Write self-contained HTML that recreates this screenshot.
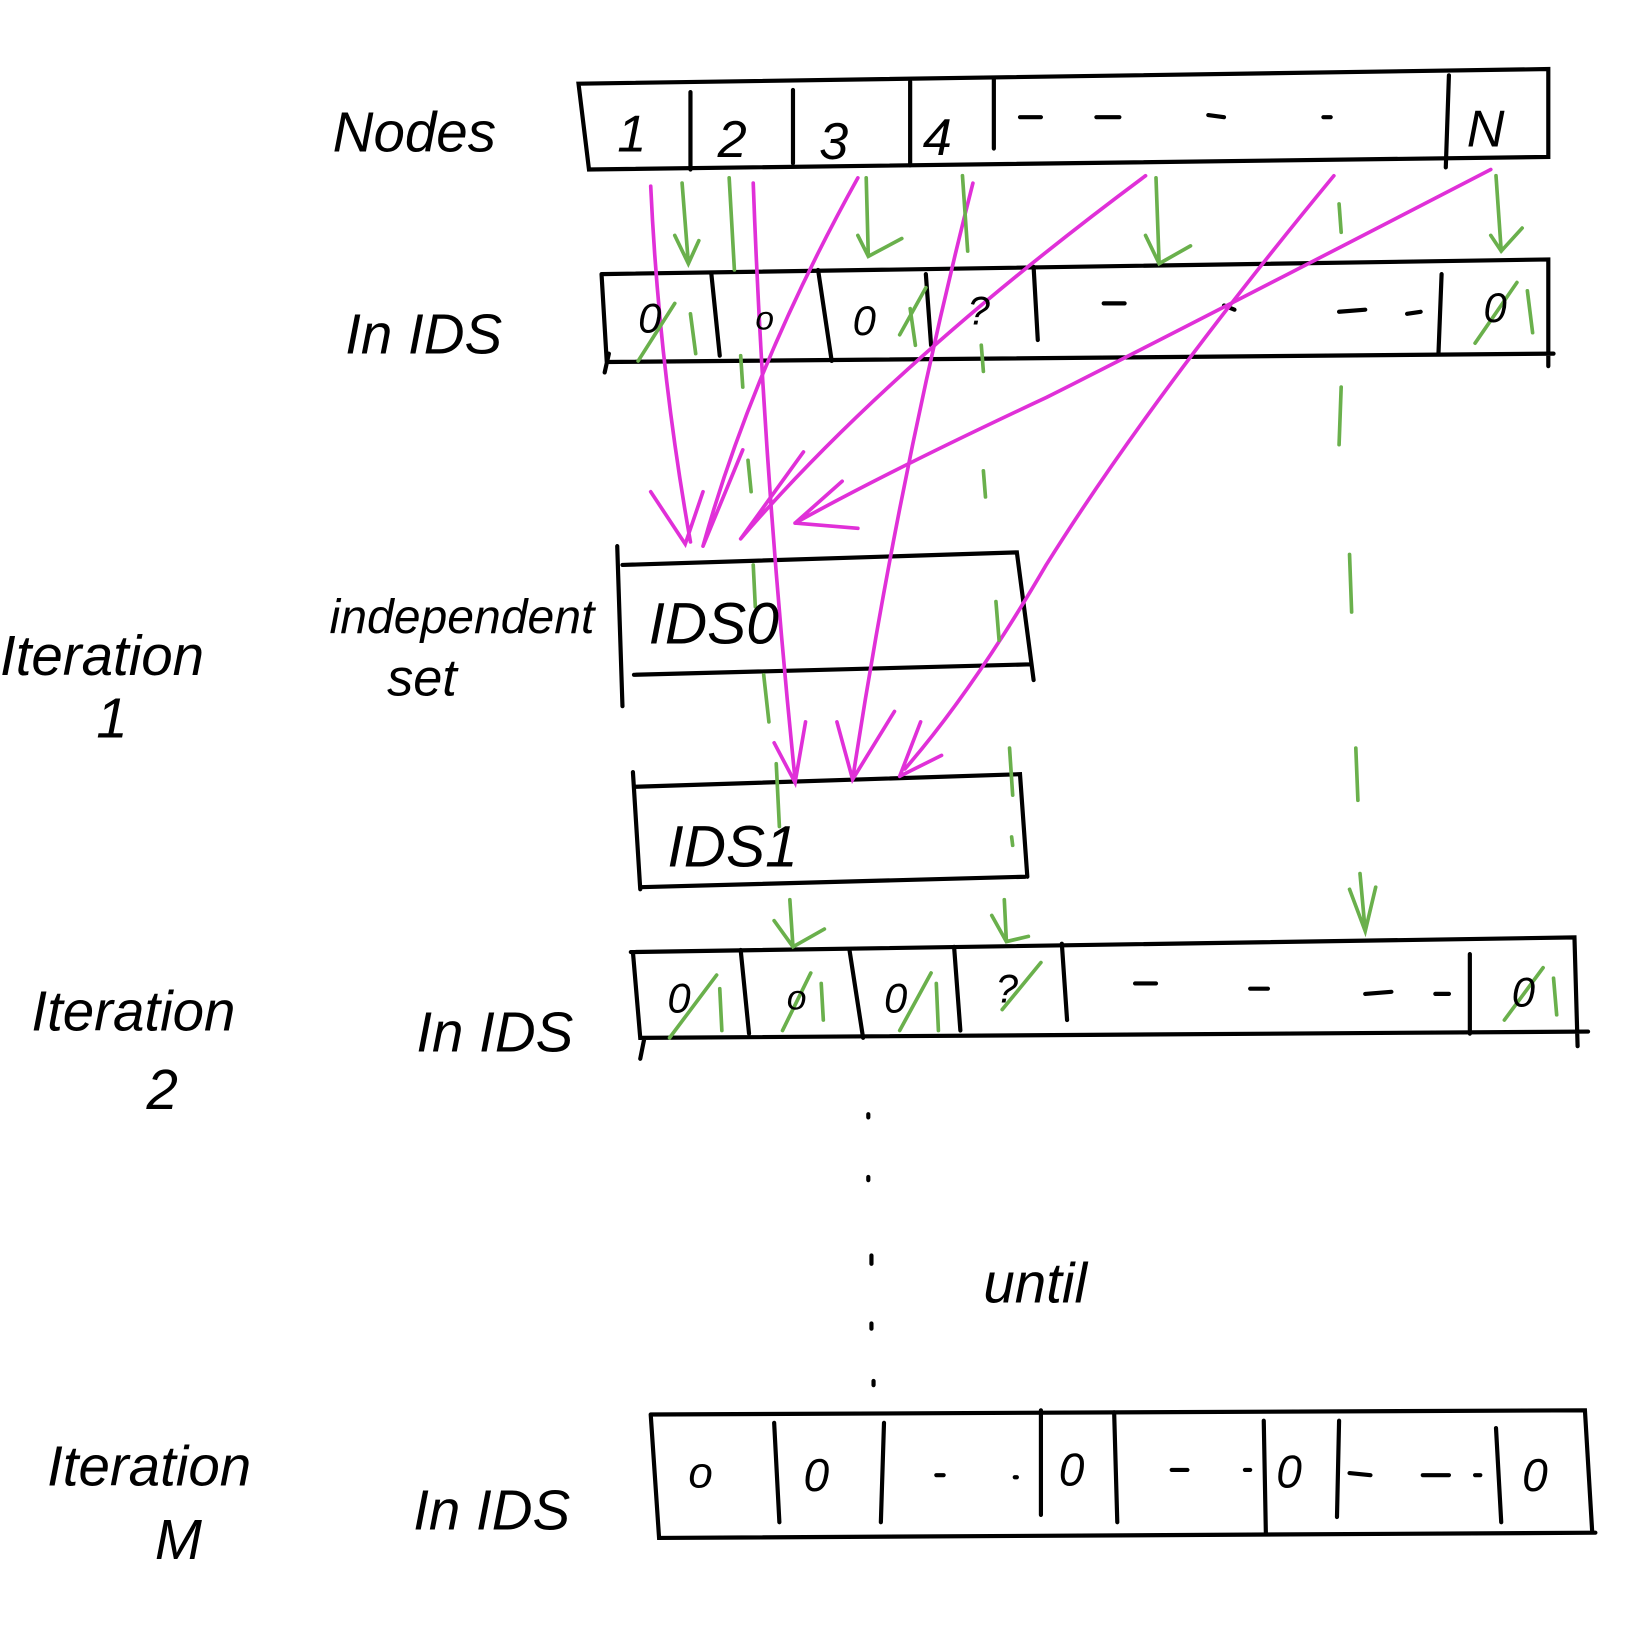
<!DOCTYPE html>
<html><head><meta charset="utf-8"><style>
html,body{margin:0;padding:0;background:#fff;}
svg{display:block}
text{font-family:"Liberation Sans",sans-serif;font-style:italic;fill:#000}
</style></head><body>
<svg width="1632" height="1630" viewBox="0 0 1560 1558" preserveAspectRatio="none" xmlns="http://www.w3.org/2000/svg">
<g fill="none" stroke="#000" stroke-width="4" stroke-linecap="round">
<g>
<path d="M553 80 L1480 66 L1480 150 L563 162 Z"/>
<path d="M660 88 L660 162 M758 86 L758 156 M870 78 L870 158 M950 76 L950 142 M1385 72 L1382 160"/>
</g>
<g>
<path d="M575 262 L1480 248 L1480 350 M1485 338 L580 346 L575 262 M578 356 L582 338"/>
<path d="M680 262 L688 340 M782 258 L795 345 M885 262 L890 330 M988 255 L992 325 M1378 262 L1375 338"/>
</g>
<g>
<path d="M590 522 L595 675 M595 540 L972 528 L988 650 M606 645 L985 635"/>
</g>
<g>
<path d="M605 738 L612 850 M608 752 L975 740 L982 838 M612 848 L980 838"/>
</g>
<g>
<path d="M603 910 L1505 896 L1508 1000 M1518 986 L612 992 L605 910 M612 1012 L616 992"/>
<path d="M708 908 L716 988 M812 908 L825 992 M912 905 L918 985 M1015 902 L1020 975 M1405 912 L1405 988"/>
</g>
<g>
<path d="M622 1352 L1515 1348 L1522 1465 M1525 1465 L630 1470 L622 1352"/>
<path d="M740 1360 L745 1455 M845 1360 L842 1455 M995 1348 L995 1448 M1065 1350 L1068 1455 M1208 1358 L1210 1465 M1280 1358 L1278 1450 M1430 1365 L1435 1455"/>
</g>
<path d="M975 112 L995 112 M1048 112 L1070 112 M1155 110 L1170 112 M1265 112 L1272 112 M1055 290 L1075 290 M1170 292 L1180 296 M1280 298 L1305 296 M1345 300 L1358 298 M1085 940 L1105 940 M1195 945 L1212 945 M1305 950 L1330 948 M1372 950 L1385 950 M895 1410 L902 1410 M970 1412 L972 1412 M1120 1405 L1135 1405 M1190 1405 L1195 1405 M1290 1408 L1310 1410 M1360 1410 L1385 1410 M1410 1410 L1415 1410"/>
<path d="M830 1065 l0 3 M830 1125 l0 3 M833 1200 l0 8 M833 1265 l0 5 M835 1320 l0 4" stroke-width="4"/>
</g>
<g fill="none" stroke="#e030d8" stroke-width="3.5" stroke-linecap="round">
<path d="M622 178 Q630 350 660 518 M622 470 L655 520 L672 470"/>
<path d="M720 175 Q730 450 760 745 M740 710 L760 748 L770 690"/>
<path d="M820 170 Q720 350 672 522 M672 522 L710 430"/>
<path d="M930 175 Q860 450 815 745 M800 690 L815 745 L855 680"/>
<path d="M1095 168 Q850 350 708 515 M708 515 L768 432"/>
<path d="M1275 168 Q1100 380 1000 540 Q930 660 865 735 M860 742 L880 690 M860 742 L900 722"/>
<path d="M1425 162 Q1100 330 1000 380 Q850 450 760 500 M760 500 L805 460 M760 500 L820 505"/>
</g>
<g fill="none" stroke="#6ab04c" stroke-width="3.5" stroke-linecap="round">
<path d="M652 175 L658 252 M645 225 L658 252 L668 230"/>
<path d="M828 170 L830 245 M820 225 L830 245 L862 228"/>
<path d="M1105 170 L1108 252 M1095 225 L1108 252 L1138 235"/>
<path d="M1430 168 L1435 240 M1425 225 L1435 240 L1455 218"/>
<path d="M697 170 L702 258 M920 168 L925 240 M1280 195 L1282 222 M1282 370 L1280 425 M1290 530 L1292 585 M1296 715 L1298 765 M1300 835 L1305 890 M1290 850 L1305 890 L1315 848"/>
<path d="M708 340 L710 370 M715 440 L718 470 M720 540 L722 580 M730 645 L735 690 M742 730 L745 790 M755 860 L758 905 M740 880 L758 905 L788 888"/>
<path d="M938 330 L940 355 M940 450 L942 475 M952 575 L955 612 M965 715 L968 760 M967 800 L968 808 M960 860 L962 900 M948 875 L962 900 L983 895"/>
<path d="M610 345 L645 290 M660 300 L665 338 M1410 328 L1450 270 M1460 278 L1465 318 M860 320 L885 275 M870 295 L875 330"/>
<path d="M640 992 L685 932 M688 945 L690 985 M748 985 L775 930 M785 940 L787 975 M860 985 L890 930 M895 940 L897 985 M958 965 L995 920 M1438 975 L1475 925 M1485 935 L1488 970"/>
</g>
<g font-size="50">
<text x="590" y="145">1</text><text x="686" y="150">2</text><text x="783" y="152">3</text><text x="882" y="148">4</text><text x="1402" y="140">N</text>
<text x="610" y="318" font-size="40">0</text><text x="722" y="315" font-size="32">o</text><text x="815" y="320" font-size="40">0</text><text x="925" y="310" font-size="38">?</text><text x="1418" y="308" font-size="40">0</text>
<text x="638" y="968" font-size="40">0</text><text x="752" y="965" font-size="34">o</text><text x="845" y="968" font-size="40">0</text><text x="952" y="958" font-size="38">?</text><text x="1445" y="962" font-size="40">0</text>
<text x="658" y="1422" font-size="42">o</text><text x="768" y="1425" font-size="44">0</text><text x="1012" y="1420" font-size="44">0</text><text x="1220" y="1422" font-size="44">0</text><text x="1455" y="1425" font-size="44">0</text>
<text x="620" y="615" font-size="56">IDS0</text>
<text x="638" y="828" font-size="56">IDS1</text>
</g>
<g font-size="54">
<text x="318" y="145">Nodes</text>
<text x="330" y="338">In IDS</text>
<text x="315" y="605" font-size="46">independent</text>
<text x="370" y="665" font-size="50">set</text>
<text x="0" y="645">Iteration</text>
<text x="92" y="705">1</text>
<text x="30" y="985">Iteration</text>
<text x="140" y="1060">2</text>
<text x="398" y="1005">In IDS</text>
<text x="940" y="1245">until</text>
<text x="45" y="1420">Iteration</text>
<text x="148" y="1490">M</text>
<text x="395" y="1462">In IDS</text>
</g>
</svg>
</body></html>
